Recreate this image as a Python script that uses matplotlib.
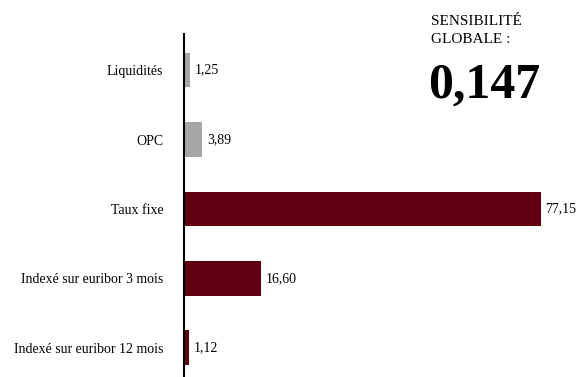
import matplotlib
matplotlib.use("Agg")
import matplotlib.pyplot as plt

categories = ["Liquidités", "OPC", "Taux fixe",
              "Indexé sur euribor 3 mois", "Indexé sur euribor 12 mois"]
values = [1.25, 3.89, 77.15, 16.60, 1.12]
value_labels = ["1,25", "3,89", "77,15", "16,60", "1,12"]
colors = ["#a6a6a6", "#a6a6a6", "#600010", "#600010", "#600010"]
title_lines = ["SENSIBILITÉ", "GLOBALE :"]
big_number = "0,147"

plt.rcParams["font.family"] = ["Liberation Serif", "DejaVu Serif"]

W, H = 577, 377
fig = plt.figure(figsize=(W / 100, H / 100), dpi=100)
ax = fig.add_axes([184 / W, 0, (563 - 184) / W, 1 - 34 / H])

y = list(range(len(categories)))
ax.barh(y, values, height=0.5, color=colors)
ax.set_xlim(0, 82)
ax.set_ylim(4.42, -0.52)
ax.set_yticks(y)
ax.set_yticklabels(categories, fontsize=10)
ax.tick_params(axis="y", length=0, pad=15)
ax.set_xticks([])
for s in ["top", "right", "bottom"]:
    ax.spines[s].set_visible(False)
ax.spines["left"].set_linewidth(1.5)
ax.spines["left"].set_color("black")

for yi, v, lab in zip(y, values, value_labels):
    ax.annotate(lab, (v, yi), xytext=(3.5, 0), textcoords="offset points",
                va="center", ha="left", fontsize=10)

fig.text(431 / W, 1 - 25.3 / H, title_lines[0], fontsize=11, va="baseline")
fig.text(431 / W, 1 - 43.3 / H, title_lines[1], fontsize=11, va="baseline")
fig.text(428 / W, 1 - 98 / H, big_number, fontsize=36, fontweight="bold",
         va="baseline")

fig.savefig("out.png", dpi=100)
